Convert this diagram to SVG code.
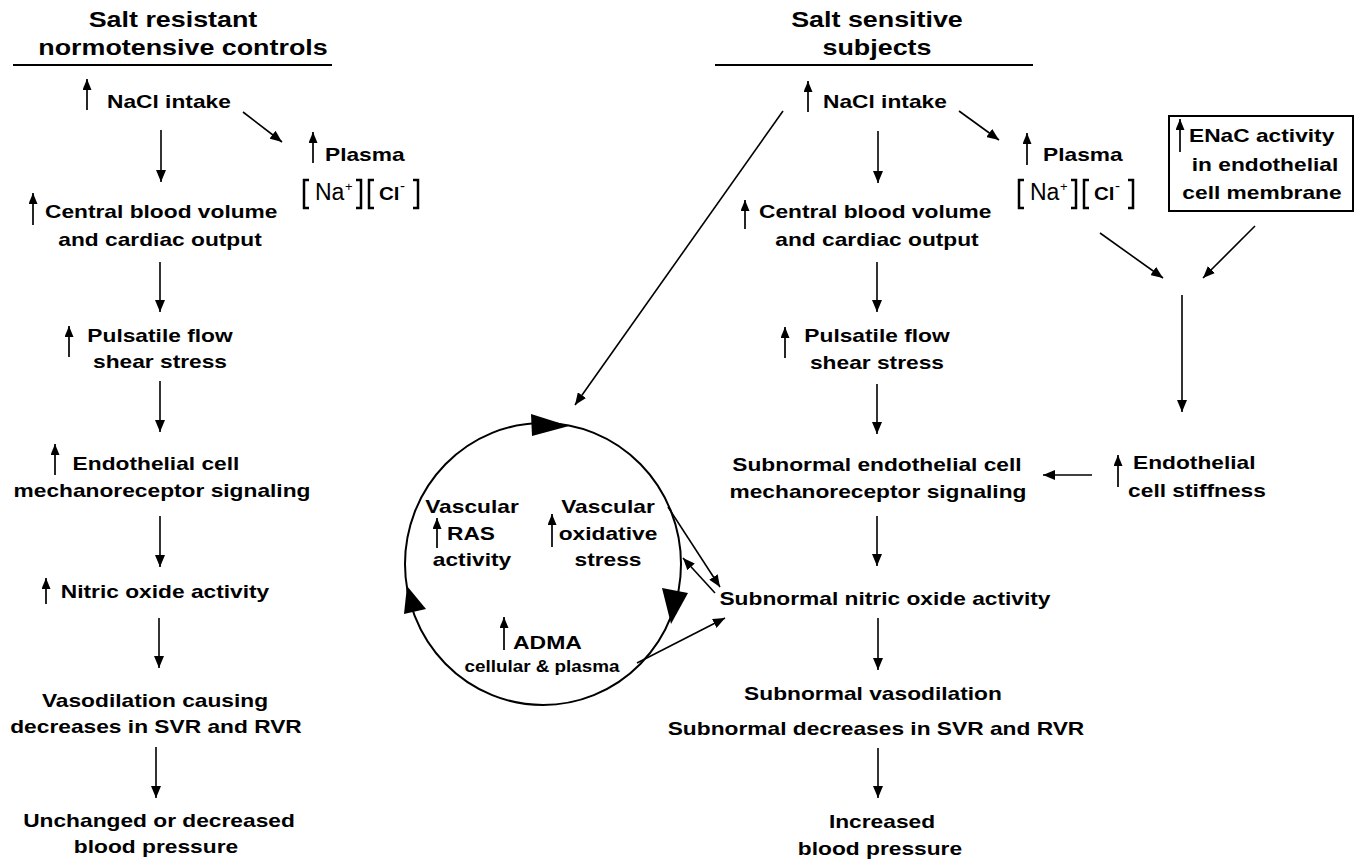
<svg xmlns="http://www.w3.org/2000/svg" width="1360" height="863" viewBox="0 0 1360 863">
<style>
text{font-family:"Liberation Sans",Arial,Helvetica,sans-serif;font-weight:bold;font-size:18.8px;fill:#000}
.m{text-anchor:middle}
.t{font-size:22.2px}
.sm{font-size:15.6px}
.reg{font-weight:normal}
.cl{font-size:19px;font-weight:bold}
.c{stroke:#000;stroke-width:1.6;fill:none}
.u{stroke:#000;stroke-width:1.7;fill:none}
.br{stroke:#000;stroke-width:2.5;fill:none}
</style>
<defs>
<marker id="ah" markerWidth="12" markerHeight="10" refX="12" refY="5" orient="auto" markerUnits="userSpaceOnUse"><path d="M0,0 L12,5 L0,10 z" fill="#000"/></marker>
<marker id="sh" markerWidth="11" markerHeight="9" refX="11" refY="4.5" orient="auto" markerUnits="userSpaceOnUse"><path d="M0,0 L11,4.5 L0,9 z" fill="#000"/></marker>
</defs>
<rect width="1360" height="863" fill="#fff"/>

<g id="title-left">
<text class="t m" x="173" y="27" transform="matrix(1.21 0 0 1 -36.33 0)">Salt resistant</text>
<text class="t m" x="183" y="55" transform="matrix(1.21 0 0 1 -38.43 0)">normotensive controls</text>
<line x1="13" y1="65" x2="332" y2="65" stroke="#000" stroke-width="2"/>
</g>
<g id="title-right">
<text class="t m" x="877" y="27" transform="matrix(1.21 0 0 1 -184.17 0)">Salt sensitive</text>
<text class="t m" x="877" y="55" transform="matrix(1.21 0 0 1 -184.17 0)">subjects</text>
<line x1="715" y1="65" x2="1033" y2="65" stroke="#000" stroke-width="2"/>
</g>

<!-- Left column -->
<g id="L-nacl">
<line class="u" x1="87" y1="110" x2="87" y2="79" marker-end="url(#sh)"/>
<text x="107" y="108" transform="matrix(1.21 0 0 1 -22.47 0)">NaCl intake</text>
</g>
<g id="L-plasma">
<line class="u" x1="313" y1="163" x2="313" y2="132" marker-end="url(#sh)"/>
<text x="325" y="161" transform="matrix(1.21 0 0 1 -68.25 0)">Plasma</text>
<path class="br" d="M309,180 H304 V208 H309"/>
<text class="reg" x="315" y="200" style="font-size:23px">Na</text>
<text class="reg" x="345" y="191" style="font-size:13px">+</text>
<path class="br" d="M356,180 H361 V208 H356"/>
<path class="br" d="M374,180 H369 V208 H374"/>
<text class="cl" x="379" y="200" transform="matrix(1.08 0 0 1 -30.32 0)">Cl</text>
<text class="reg" x="400" y="191" style="font-size:15px">-</text>
<path class="br" d="M413,180 H418 V208 H413"/>
</g>
<g id="L-central">
<line class="u" x1="33" y1="225" x2="33" y2="193" marker-end="url(#sh)"/>
<text x="45" y="218" transform="matrix(1.21 0 0 1 -9.45 0)">Central blood volume</text>
<text class="m" x="160" y="246" transform="matrix(1.21 0 0 1 -33.6 0)">and cardiac output</text>
</g>
<g id="L-pulsatile">
<line class="u" x1="69" y1="357" x2="69" y2="326" marker-end="url(#sh)"/>
<text class="m" x="160" y="342" transform="matrix(1.21 0 0 1 -33.6 0)">Pulsatile flow</text>
<text class="m" x="160" y="368" transform="matrix(1.21 0 0 1 -33.6 0)">shear stress</text>
</g>
<g id="L-endo">
<line class="u" x1="55" y1="475" x2="55" y2="444" marker-end="url(#sh)"/>
<text class="m" x="156" y="470" transform="matrix(1.21 0 0 1 -32.76 0)">Endothelial cell</text>
<text class="m" x="162" y="497" transform="matrix(1.21 0 0 1 -34.02 0)">mechanoreceptor signaling</text>
</g>
<g id="L-no">
<line class="u" x1="46" y1="604" x2="46" y2="578" marker-end="url(#sh)"/>
<text class="m" x="165" y="598" transform="matrix(1.21 0 0 1 -34.65 0)">Nitric oxide activity</text>
</g>
<g id="L-vaso">
<text class="m" x="155" y="707" transform="matrix(1.21 0 0 1 -32.55 0)">Vasodilation causing</text>
<text class="m" x="156" y="733" transform="matrix(1.21 0 0 1 -32.76 0)">decreases in SVR and RVR</text>
</g>
<g id="L-bp">
<text class="m" x="159" y="827" transform="matrix(1.21 0 0 1 -33.39 0)">Unchanged or decreased</text>
<text class="m" x="156" y="853" transform="matrix(1.21 0 0 1 -32.76 0)">blood pressure</text>
</g>

<!-- Right column -->
<g id="R-nacl">
<line class="u" x1="808" y1="112" x2="808" y2="81" marker-end="url(#sh)"/>
<text x="823" y="108" transform="matrix(1.21 0 0 1 -172.83 0)">NaCl intake</text>
</g>
<g id="R-plasma">
<line class="u" x1="1027" y1="165" x2="1027" y2="133" marker-end="url(#sh)"/>
<text x="1043" y="161" transform="matrix(1.21 0 0 1 -219.03 0)">Plasma</text>
<path class="br" d="M1024,180 H1019 V208 H1024"/>
<text class="reg" x="1030" y="200" style="font-size:23px">Na</text>
<text class="reg" x="1060" y="191" style="font-size:13px">+</text>
<path class="br" d="M1071,180 H1076 V208 H1071"/>
<path class="br" d="M1089,180 H1084 V208 H1089"/>
<text class="cl" x="1094" y="200" transform="matrix(1.08 0 0 1 -87.52 0)">Cl</text>
<text class="reg" x="1115" y="191" style="font-size:15px">-</text>
<path class="br" d="M1128,180 H1133 V208 H1128"/>
</g>
<g id="R-enac">
<rect x="1169" y="116" width="184" height="95" fill="none" stroke="#000" stroke-width="2"/>
<line class="u" x1="1180" y1="152" x2="1180" y2="119" marker-end="url(#sh)"/>
<text x="1189" y="142" transform="matrix(1.21 0 0 1 -249.69 0)">ENaC activity</text>
<text class="m" x="1265" y="171" transform="matrix(1.21 0 0 1 -265.65 0)">in endothelial</text>
<text class="m" x="1262" y="199" transform="matrix(1.21 0 0 1 -265.02 0)">cell membrane</text>
</g>
<g id="R-central">
<line class="u" x1="745" y1="229" x2="745" y2="200" marker-end="url(#sh)"/>
<text x="759" y="218" transform="matrix(1.21 0 0 1 -159.39 0)">Central blood volume</text>
<text class="m" x="877" y="246" transform="matrix(1.21 0 0 1 -184.17 0)">and cardiac output</text>
</g>
<g id="R-pulsatile">
<line class="u" x1="785" y1="358" x2="785" y2="327" marker-end="url(#sh)"/>
<text class="m" x="877" y="342" transform="matrix(1.21 0 0 1 -184.17 0)">Pulsatile flow</text>
<text class="m" x="877" y="369" transform="matrix(1.21 0 0 1 -184.17 0)">shear stress</text>
</g>
<g id="R-endo">
<text class="m" x="877" y="471" transform="matrix(1.21 0 0 1 -184.17 0)">Subnormal endothelial cell</text>
<text class="m" x="878" y="498" transform="matrix(1.21 0 0 1 -184.38 0)">mechanoreceptor signaling</text>
</g>
<g id="R-stiff">
<line class="u" x1="1118" y1="487" x2="1118" y2="455" marker-end="url(#sh)"/>
<text x="1133" y="469" transform="matrix(1.21 0 0 1 -237.93 0)">Endothelial</text>
<text class="m" x="1197" y="497" transform="matrix(1.21 0 0 1 -251.37 0)">cell stiffness</text>
</g>
<g id="R-no">
<text class="m" x="885" y="605" transform="matrix(1.21 0 0 1 -185.85 0)">Subnormal nitric oxide activity</text>
</g>
<g id="R-vaso">
<text class="m" x="873" y="700" transform="matrix(1.21 0 0 1 -183.33 0)">Subnormal vasodilation</text>
<text class="m" x="876" y="735" transform="matrix(1.21 0 0 1 -183.96 0)">Subnormal decreases in SVR and RVR</text>
</g>
<g id="R-bp">
<text class="m" x="882" y="828" transform="matrix(1.21 0 0 1 -185.22 0)">Increased</text>
<text class="m" x="880" y="855" transform="matrix(1.21 0 0 1 -184.8 0)">blood pressure</text>
</g>

<!-- Vicious cycle -->
<g id="cycle">
<ellipse cx="543" cy="564" rx="138" ry="141" fill="none" stroke="#000" stroke-width="2"/>
<polygon points="531,414 532,436 569,426" fill="#000"/>
<polygon points="662,588 688,593 671,624" fill="#000"/>
<polygon points="404,614 426,609 407,586" fill="#000"/>
</g>
<g id="C-ras">
<text class="m" x="472" y="513" transform="matrix(1.21 0 0 1 -99.12 0)">Vascular</text>
<line class="u" x1="437" y1="548" x2="437" y2="518" marker-end="url(#sh)"/>
<text class="m" x="471" y="540" transform="matrix(1.21 0 0 1 -98.91 0)">RAS</text>
<text class="m" x="472" y="566" transform="matrix(1.21 0 0 1 -99.12 0)">activity</text>
</g>
<g id="C-ox">
<text class="m" x="608" y="513" transform="matrix(1.21 0 0 1 -127.68 0)">Vascular</text>
<line class="u" x1="552" y1="547" x2="552" y2="514" marker-end="url(#sh)"/>
<text class="m" x="608" y="540" transform="matrix(1.21 0 0 1 -127.68 0)">oxidative</text>
<text class="m" x="608" y="566" transform="matrix(1.21 0 0 1 -127.68 0)">stress</text>
</g>
<g id="C-adma">
<line class="u" x1="504" y1="650" x2="504" y2="617" marker-end="url(#sh)"/>
<text x="513" y="649" style="font-size:19px" transform="matrix(1.21 0 0 1 -107.73 0)">ADMA</text>
<text class="m sm" x="542" y="672" transform="matrix(1.21 0 0 1 -113.82 0)">cellular &amp; plasma</text>
</g>

<g id="connectors">
<line class="c" x1="161" y1="130" x2="161" y2="182" marker-end="url(#ah)"/>
<line class="c" x1="243" y1="112" x2="282" y2="142" marker-end="url(#ah)"/>
<line class="c" x1="160" y1="262" x2="160" y2="312" marker-end="url(#ah)"/>
<line class="c" x1="160" y1="381" x2="160" y2="432" marker-end="url(#ah)"/>
<line class="c" x1="160" y1="516" x2="160" y2="567" marker-end="url(#ah)"/>
<line class="c" x1="159" y1="618" x2="159" y2="668" marker-end="url(#ah)"/>
<line class="c" x1="156" y1="747" x2="156" y2="798" marker-end="url(#ah)"/>

<line class="c" x1="878" y1="131" x2="878" y2="183" marker-end="url(#ah)"/>
<line class="c" x1="959" y1="111" x2="999" y2="140" marker-end="url(#ah)"/>
<line class="c" x1="783" y1="111" x2="575" y2="405" marker-end="url(#ah)"/>
<line class="c" x1="877" y1="262" x2="877" y2="312" marker-end="url(#ah)"/>
<line class="c" x1="877" y1="384" x2="877" y2="434" marker-end="url(#ah)"/>
<line class="c" x1="877" y1="516" x2="877" y2="566" marker-end="url(#ah)"/>
<line class="c" x1="878" y1="618" x2="878" y2="670" marker-end="url(#ah)"/>
<line class="c" x1="878" y1="748" x2="878" y2="798" marker-end="url(#ah)"/>

<line class="c" x1="1100" y1="233" x2="1163" y2="278" marker-end="url(#ah)"/>
<line class="c" x1="1255" y1="226" x2="1203" y2="278" marker-end="url(#ah)"/>
<line class="c" x1="1182" y1="295" x2="1182" y2="412" marker-end="url(#ah)"/>
<line class="c" x1="1092" y1="475" x2="1043" y2="475" marker-end="url(#ah)"/>

<line class="c" x1="668" y1="507" x2="720" y2="587" marker-end="url(#ah)"/>
<line class="c" x1="715" y1="593" x2="683" y2="558" marker-end="url(#ah)"/>
<line class="c" x1="637" y1="663" x2="725" y2="618" marker-end="url(#ah)"/>
</g>
</svg>
